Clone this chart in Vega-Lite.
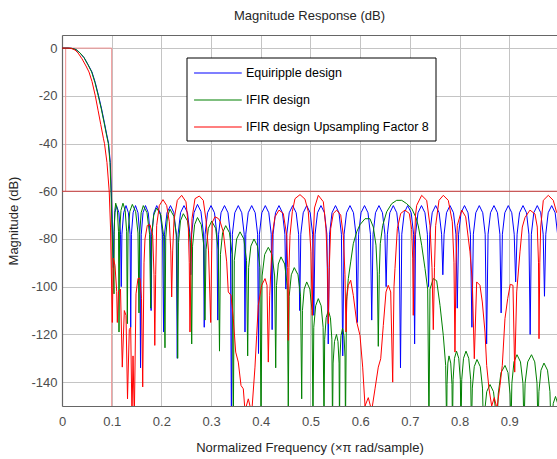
{
"$schema":"https://vega.github.io/schema/vega-lite/v6.json",
"width":495,"height":371,
"autosize":{"type":"none"},
"padding":{"left":62,"top":35,"right":0,"bottom":53},
"background":"white",
"title":{"text":"Magnitude Response (dB)","fontSize":13,"fontWeight":"normal","font":"Liberation Sans","color":"#262626","offset":12,"anchor":"middle"},
"config":{
"view":{"stroke":null},
"font":"Liberation Sans",
"axis":{"labelFont":"Liberation Sans","titleFont":"Liberation Sans","labelFontSize":13,"titleFontSize":13,"titleFontWeight":"normal","labelColor":"#4d4d4d","titleColor":"#262626","gridColor":"#c4c4c4","gridWidth":1,"domainColor":"#666666","domainWidth":1.2,"ticks":false,"labelFlush":false,"labelOverlap":false,"labelBound":false}
},
"datasets":{
"maskLight":[{"f":0,"f2":0.1,"d":0,"d2":0},{"f":0.0074,"f2":0.0074,"d":0,"d2":-60},{"f":0.1,"f2":0.1,"d":0,"d2":-150}],
"maskDark":[{"f":0,"f2":0.996,"d":-60,"d2":-60}],
"eq":[{"f":0,"d":0},{"f":0.012,"d":0},{"f":0.0201,"d":-0.1},{"f":0.0282,"d":-0.6},{"f":0.0362,"d":-2},{"f":0.0445,"d":-4},{"f":0.0527,"d":-7},{"f":0.0603,"d":-10},{"f":0.067,"d":-14.5},{"f":0.0736,"d":-20},{"f":0.0797,"d":-25.5},{"f":0.0851,"d":-31},{"f":0.0898,"d":-36},{"f":0.0938,"d":-40},{"f":0.0972,"d":-48},{"f":0.0992,"d":-60},{"f":0.1012,"d":-72},{"f":0.1034,"d":-92},
{"f":0.1043,"d":-78},{"f":0.1065,"d":-69},{"f":0.1097,"d":-66},{"f":0.1145,"d":-69},{"f":0.1178,"d":-78},{"f":0.1192,"d":-100},
{"f":0.1206,"d":-78},{"f":0.124,"d":-69},{"f":0.1288,"d":-66},{"f":0.1336,"d":-69},{"f":0.1369,"d":-78},{"f":0.1383,"d":-117},
{"f":0.1397,"d":-78},{"f":0.1431,"d":-69},{"f":0.1479,"d":-66},{"f":0.1529,"d":-69},{"f":0.1564,"d":-78},{"f":0.158,"d":-134},
{"f":0.1595,"d":-78},{"f":0.163,"d":-69},{"f":0.168,"d":-66},{"f":0.1736,"d":-69},{"f":0.1776,"d":-78},{"f":0.1793,"d":-110},
{"f":0.1809,"d":-78},{"f":0.1849,"d":-69},{"f":0.1906,"d":-66},{"f":0.1975,"d":-69},{"f":0.2024,"d":-78},{"f":0.2044,"d":-119},
{"f":0.2062,"d":-78},{"f":0.2113,"d":-69},{"f":0.2183,"d":-66},{"f":0.2251,"d":-69},{"f":0.2299,"d":-78},{"f":0.2319,"d":-130},
{"f":0.2336,"d":-78},{"f":0.2385,"d":-69},{"f":0.2455,"d":-66},{"f":0.2525,"d":-69},{"f":0.2574,"d":-78},{"f":0.2591,"d":-95},
{"f":0.2607,"d":-78},{"f":0.2656,"d":-69},{"f":0.2726,"d":-65.5},{"f":0.2796,"d":-68.5},{"f":0.2845,"d":-77.5},{"f":0.2862,"d":-117},
{"f":0.2879,"d":-78},{"f":0.2928,"d":-69},{"f":0.2998,"d":-66},{"f":0.3068,"d":-69},{"f":0.3117,"d":-78},{"f":0.3134,"d":-114},
{"f":0.3151,"d":-78},{"f":0.32,"d":-69},{"f":0.327,"d":-66},{"f":0.334,"d":-69},{"f":0.3389,"d":-78},{"f":0.3409,"d":-160},
{"f":0.3428,"d":-78},{"f":0.3477,"d":-69},{"f":0.3547,"d":-66},{"f":0.3617,"d":-69},{"f":0.3666,"d":-78},{"f":0.3682,"d":-119},
{"f":0.3698,"d":-78},{"f":0.3747,"d":-69},{"f":0.3817,"d":-66},{"f":0.3887,"d":-69},{"f":0.3936,"d":-78},{"f":0.3954,"d":-128},
{"f":0.3972,"d":-78},{"f":0.4021,"d":-69},{"f":0.4091,"d":-66},{"f":0.4161,"d":-69},{"f":0.421,"d":-78},{"f":0.4228,"d":-118},
{"f":0.4247,"d":-78},{"f":0.4296,"d":-69},{"f":0.4366,"d":-66},{"f":0.4436,"d":-69},{"f":0.4485,"d":-78},{"f":0.4504,"d":-101},
{"f":0.4523,"d":-78},{"f":0.4572,"d":-69},{"f":0.4642,"d":-66},{"f":0.4712,"d":-69},{"f":0.4761,"d":-78},{"f":0.4783,"d":-110},
{"f":0.4805,"d":-78},{"f":0.4854,"d":-69},{"f":0.4924,"d":-66},{"f":0.4994,"d":-69},{"f":0.5043,"d":-78},{"f":0.5067,"d":-112},
{"f":0.5092,"d":-78},{"f":0.5141,"d":-69},{"f":0.5211,"d":-66},{"f":0.5281,"d":-69},{"f":0.533,"d":-78},{"f":0.5357,"d":-124},
{"f":0.5384,"d":-78},{"f":0.5433,"d":-69},{"f":0.5503,"d":-66},{"f":0.5573,"d":-69},{"f":0.5622,"d":-78},{"f":0.5649,"d":-129},
{"f":0.5676,"d":-78},{"f":0.5725,"d":-69},{"f":0.5795,"d":-66},{"f":0.5865,"d":-69},{"f":0.5914,"d":-78},{"f":0.5941,"d":-115},
{"f":0.5968,"d":-78},{"f":0.6017,"d":-69},{"f":0.6087,"d":-66},{"f":0.6157,"d":-69},{"f":0.6206,"d":-78},{"f":0.6232,"d":-114},
{"f":0.6259,"d":-78},{"f":0.6308,"d":-69},{"f":0.6378,"d":-66},{"f":0.6448,"d":-69},{"f":0.6497,"d":-78},{"f":0.6522,"d":-100},
{"f":0.6547,"d":-78},{"f":0.6596,"d":-69},{"f":0.6666,"d":-66},{"f":0.6736,"d":-69},{"f":0.6785,"d":-78},{"f":0.6811,"d":-134},
{"f":0.6837,"d":-78},{"f":0.6886,"d":-69},{"f":0.6956,"d":-66},{"f":0.7026,"d":-69},{"f":0.7075,"d":-78},{"f":0.7095,"d":-124},
{"f":0.7114,"d":-78},{"f":0.7163,"d":-69},{"f":0.7233,"d":-66},{"f":0.7303,"d":-69},{"f":0.7352,"d":-78},{"f":0.7376,"d":-100},
{"f":0.74,"d":-78},{"f":0.7449,"d":-69},{"f":0.7519,"d":-66},{"f":0.7589,"d":-69},{"f":0.7638,"d":-78},{"f":0.7663,"d":-95},
{"f":0.7688,"d":-78},{"f":0.7737,"d":-69},{"f":0.7807,"d":-66},{"f":0.7877,"d":-69},{"f":0.7926,"d":-78},{"f":0.7953,"d":-109},
{"f":0.798,"d":-78},{"f":0.8029,"d":-69},{"f":0.8099,"d":-66},{"f":0.8169,"d":-69},{"f":0.8218,"d":-78},{"f":0.8248,"d":-117},
{"f":0.8277,"d":-78},{"f":0.8326,"d":-69},{"f":0.8396,"d":-66},{"f":0.8466,"d":-69},{"f":0.8515,"d":-78},{"f":0.8544,"d":-124},
{"f":0.8573,"d":-78},{"f":0.8622,"d":-69},{"f":0.8692,"d":-66},{"f":0.8762,"d":-69},{"f":0.8811,"d":-78},{"f":0.8836,"d":-111},
{"f":0.8861,"d":-78},{"f":0.891,"d":-69},{"f":0.898,"d":-66},{"f":0.905,"d":-69},{"f":0.9099,"d":-78},{"f":0.9128,"d":-98},
{"f":0.9157,"d":-78},{"f":0.9206,"d":-69},{"f":0.9276,"d":-66},{"f":0.9346,"d":-69},{"f":0.9395,"d":-78},{"f":0.942,"d":-120},
{"f":0.9444,"d":-78},{"f":0.9493,"d":-69},{"f":0.9563,"d":-66},{"f":0.9633,"d":-69},{"f":0.9682,"d":-78},{"f":0.9708,"d":-104},
{"f":0.9734,"d":-78},{"f":0.9783,"d":-69},{"f":0.9853,"d":-66},{"f":0.9923,"d":-69},{"f":0.9972,"d":-78}],
"ifir":[{"f":0,"d":0},{"f":0.012,"d":0},{"f":0.0201,"d":-0.1},{"f":0.0282,"d":-0.6},{"f":0.0362,"d":-2},{"f":0.0443,"d":-4},{"f":0.0523,"d":-7},{"f":0.0597,"d":-10},{"f":0.0664,"d":-14.5},{"f":0.073,"d":-20},{"f":0.0791,"d":-25.5},{"f":0.0845,"d":-31},{"f":0.0892,"d":-36},{"f":0.0932,"d":-40},{"f":0.0966,"d":-48},{"f":0.0986,"d":-60},{"f":0.1006,"d":-75},{"f":0.1046,"d":-103},
{"f":0.1051,"d":-77},{"f":0.1063,"d":-68},{"f":0.1081,"d":-65},{"f":0.1114,"d":-68},{"f":0.1137,"d":-77},{"f":0.1147,"d":-119},
{"f":0.1159,"d":-77},{"f":0.1187,"d":-68},{"f":0.1227,"d":-65},{"f":0.1271,"d":-68},{"f":0.1301,"d":-77},{"f":0.1314,"d":-115.5},
{"f":0.1329,"d":-77.5},{"f":0.1364,"d":-68.5},{"f":0.1415,"d":-65.5},{"f":0.1482,"d":-68.5},{"f":0.1529,"d":-77.5},{"f":0.1549,"d":-111},
{"f":0.1562,"d":-78},{"f":0.1593,"d":-69},{"f":0.1636,"d":-66},{"f":0.171,"d":-69},{"f":0.1762,"d":-78},{"f":0.1785,"d":-109},
{"f":0.1803,"d":-79},{"f":0.1845,"d":-70},{"f":0.1905,"d":-67},{"f":0.1989,"d":-70},{"f":0.2047,"d":-79},{"f":0.2072,"d":-125.6},
{"f":0.2087,"d":-79.5},{"f":0.2123,"d":-70.5},{"f":0.2173,"d":-67.5},{"f":0.2251,"d":-70.5},{"f":0.231,"d":-79.5},{"f":0.2328,"d":-130},
{"f":0.2345,"d":-81.4},{"f":0.2384,"d":-72.4},{"f":0.2441,"d":-69.4},{"f":0.2525,"d":-72.4},{"f":0.2584,"d":-81.4},{"f":0.261,"d":-124},
{"f":0.2627,"d":-83},{"f":0.2668,"d":-74},{"f":0.2726,"d":-71},{"f":0.2802,"d":-74},{"f":0.2855,"d":-83},{"f":0.2877,"d":-114},
{"f":0.2898,"d":-84.5},{"f":0.2945,"d":-75.5},{"f":0.3012,"d":-72.5},{"f":0.3091,"d":-75.5},{"f":0.3145,"d":-84.5},{"f":0.3169,"d":-127},
{"f":0.3188,"d":-86.4},{"f":0.3231,"d":-77.4},{"f":0.3294,"d":-74.4},{"f":0.337,"d":-77.4},{"f":0.3424,"d":-86.4},{"f":0.3447,"d":-160},
{"f":0.3467,"d":-89},{"f":0.3514,"d":-80},{"f":0.3582,"d":-77},{"f":0.3659,"d":-80},{"f":0.3713,"d":-89},{"f":0.3736,"d":-129},
{"f":0.3755,"d":-92},{"f":0.38,"d":-83},{"f":0.3863,"d":-80},{"f":0.3934,"d":-83},{"f":0.3983,"d":-92},{"f":0.4004,"d":-160},
{"f":0.4026,"d":-95.5},{"f":0.4078,"d":-86.5},{"f":0.4151,"d":-83.5},{"f":0.4225,"d":-86.5},{"f":0.4278,"d":-95.5},{"f":0.43,"d":-134},
{"f":0.4316,"d":-99.5},{"f":0.4353,"d":-90.5},{"f":0.4406,"d":-87.5},{"f":0.448,"d":-90.5},{"f":0.4532,"d":-99.5},{"f":0.4553,"d":-150},
{"f":0.4571,"d":-104},{"f":0.4614,"d":-95},{"f":0.4674,"d":-92},{"f":0.4748,"d":-95},{"f":0.48,"d":-104},{"f":0.4823,"d":-147},
{"f":0.4838,"d":-110},{"f":0.4873,"d":-101},{"f":0.4924,"d":-98},{"f":0.4987,"d":-101},{"f":0.5031,"d":-110},{"f":0.505,"d":-160},
{"f":0.5066,"d":-117},{"f":0.5104,"d":-108},{"f":0.5157,"d":-105},{"f":0.5214,"d":-108},{"f":0.5254,"d":-117},{"f":0.5272,"d":-160},
{"f":0.5285,"d":-122},{"f":0.5315,"d":-113},{"f":0.5358,"d":-110},{"f":0.5401,"d":-113},{"f":0.543,"d":-122},{"f":0.5443,"d":-160},
{"f":0.5455,"d":-132},{"f":0.5483,"d":-123},{"f":0.5523,"d":-120},{"f":0.5553,"d":-123},{"f":0.5575,"d":-132},{"f":0.5584,"d":-160},
{"f":0.5593,"d":-129.5},{"f":0.5614,"d":-120.5},{"f":0.5644,"d":-117.5},{"f":0.5674,"d":-120.5},{"f":0.5695,"d":-129.5},{"f":0.5704,"d":-160},
{"f":0.5724,"d":-106},{"f":0.5761,"d":-96.6},{"f":0.5809,"d":-89.6},{"f":0.5861,"d":-82},{"f":0.593,"d":-77},{"f":0.5996,"d":-74},{"f":0.6097,"d":-71.5},{"f":0.6197,"d":-71.5},{"f":0.6264,"d":-75},{"f":0.6318,"d":-82.6},{"f":0.6344,"d":-93.8},{"f":0.6364,"d":-125},
{"f":0.6384,"d":-95},{"f":0.6404,"d":-82},{"f":0.6453,"d":-74.3},{"f":0.6533,"d":-68.6},{"f":0.6634,"d":-65.2},{"f":0.6734,"d":-63.8},{"f":0.6835,"d":-63.8},{"f":0.6936,"d":-65.2},{"f":0.7036,"d":-67.2},{"f":0.7123,"d":-71},{"f":0.7169,"d":-74.5},{"f":0.7237,"d":-82.6},{"f":0.7304,"d":-92.4},{"f":0.7358,"d":-101},{"f":0.7384,"d":-160},
{"f":0.7404,"d":-101},{"f":0.7471,"d":-96.6},{"f":0.7539,"d":-97.5},{"f":0.7606,"d":-107.8},{"f":0.7672,"d":-120.4},{"f":0.772,"d":-133},{"f":0.774,"d":-160},
{"f":0.7747,"d":-141},{"f":0.7764,"d":-132},{"f":0.7787,"d":-129},{"f":0.7822,"d":-132},{"f":0.7847,"d":-141},{"f":0.7857,"d":-160},
{"f":0.7869,"d":-139},{"f":0.7897,"d":-130},{"f":0.7938,"d":-127},{"f":0.7983,"d":-130},{"f":0.8015,"d":-139},{"f":0.8028,"d":-160},
{"f":0.8043,"d":-139},{"f":0.8079,"d":-130},{"f":0.8129,"d":-127},{"f":0.8184,"d":-130},{"f":0.8223,"d":-139},{"f":0.8239,"d":-160},
{"f":0.8256,"d":-142.5},{"f":0.8295,"d":-133.5},{"f":0.835,"d":-130.5},{"f":0.8416,"d":-133.5},{"f":0.8461,"d":-142.5},{"f":0.8481,"d":-160},
{"f":0.8501,"d":-153},{"f":0.8546,"d":-144},{"f":0.8612,"d":-141},{"f":0.8682,"d":-144},{"f":0.8731,"d":-153},{"f":0.8753,"d":-160},
{"f":0.8777,"d":-145},{"f":0.8833,"d":-136},{"f":0.8914,"d":-133},{"f":0.8974,"d":-136},{"f":0.9016,"d":-145},{"f":0.9034,"d":-160},
{"f":0.9052,"d":-140.5},{"f":0.9094,"d":-131.5},{"f":0.9155,"d":-128.5},{"f":0.9225,"d":-131.5},{"f":0.9275,"d":-140.5},{"f":0.9296,"d":-160},
{"f":0.9318,"d":-140.5},{"f":0.9371,"d":-131.5},{"f":0.9447,"d":-128.5},{"f":0.9512,"d":-131.5},{"f":0.9558,"d":-140.5},{"f":0.9578,"d":-160},
{"f":0.9596,"d":-144},{"f":0.9638,"d":-135},{"f":0.9698,"d":-132},{"f":0.9769,"d":-135},{"f":0.9818,"d":-144},{"f":0.9839,"d":-160},
{"f":0.9853,"d":-158},{"f":0.9884,"d":-149},{"f":0.993,"d":-146},{"f":0.9975,"d":-149}],
"up":[{"f":0,"d":0},{"f":0.012,"d":0},{"f":0.0181,"d":-0.1},{"f":0.0262,"d":-0.8},{"f":0.0322,"d":-2},{"f":0.0403,"d":-4.5},{"f":0.0483,"d":-7.5},{"f":0.0543,"d":-10},{"f":0.0604,"d":-14},{"f":0.067,"d":-20},{"f":0.0725,"d":-26},{"f":0.078,"d":-32},{"f":0.0835,"d":-38},{"f":0.0855,"d":-40},{"f":0.0905,"d":-48},{"f":0.095,"d":-60},{"f":0.0976,"d":-75},{"f":0.1012,"d":-115},
{"f":0.1032,"d":-88},{"f":0.1066,"d":-91},{"f":0.1101,"d":-102},{"f":0.1113,"d":-115},{"f":0.1137,"d":-102},{"f":0.1177,"d":-101},{"f":0.1213,"d":-133.7},{"f":0.1254,"d":-110},{"f":0.1288,"d":-112},{"f":0.1318,"d":-147},{"f":0.1354,"d":-118},{"f":0.1382,"d":-117},{"f":0.1408,"d":-155},{"f":0.1429,"d":-129},{"f":0.1455,"d":-155},{"f":0.1489,"d":-103},{"f":0.1529,"d":-96.5},{"f":0.1569,"d":-96.5},{"f":0.16,"d":-105},{"f":0.1624,"d":-142},{"f":0.165,"d":-90},{"f":0.167,"d":-80},{"f":0.1716,"d":-74.3},{"f":0.1771,"d":-74},{"f":0.1825,"d":-78.5},{"f":0.1851,"d":-95},{"f":0.1867,"d":-124.6},{"f":0.1885,"d":-95},{"f":0.1905,"d":-74.3},{"f":0.1958,"d":-66},{"f":0.2032,"d":-63.5},{"f":0.2107,"d":-66},{"f":0.2159,"d":-72.8},{"f":0.2189,"d":-85},{"f":0.2207,"d":-104.3},{"f":0.2227,"d":-85},{"f":0.2254,"d":-72},{"f":0.232,"d":-63.8},{"f":0.2408,"d":-61.7},{"f":0.2495,"d":-64.4},{"f":0.2541,"d":-74.3},{"f":0.2561,"d":-90},{"f":0.2575,"d":-119},{"f":0.2596,"d":-90},{"f":0.2616,"d":-71.4},{"f":0.2676,"d":-63.1},{"f":0.2763,"d":-62},{"f":0.2843,"d":-63.8},{"f":0.2897,"d":-72},{"f":0.2948,"d":-85},{"f":0.2992,"d":-115},{"f":0.3012,"d":-85},{"f":0.3024,"d":-73},{"f":0.3078,"d":-70.7},{"f":0.3145,"d":-71.4},{"f":0.3179,"d":-72.5},{"f":0.3246,"d":-77.1},{"f":0.3314,"d":-89.6},{"f":0.3346,"d":-102.2},{"f":0.34,"d":-103.6},{"f":0.3447,"d":-113.4},{"f":0.3495,"d":-127.4},{"f":0.3547,"d":-131.6},{"f":0.3602,"d":-141.4},{"f":0.3648,"d":-142.8},{"f":0.3682,"d":-152},{"f":0.3749,"d":-147},{"f":0.3817,"d":-153},{"f":0.3883,"d":-133.7},{"f":0.3917,"d":-120.4},{"f":0.395,"d":-107.8},{"f":0.4018,"d":-99.4},{"f":0.4085,"d":-96.6},{"f":0.4125,"d":-99.4},{"f":0.4151,"d":-131.6},{"f":0.4179,"d":-103.6},{"f":0.4239,"d":-77.1},{"f":0.4286,"d":-70.7},{"f":0.4366,"d":-67.9},{"f":0.4453,"d":-69.3},{"f":0.4521,"d":-78.5},{"f":0.4541,"d":-92},{"f":0.4553,"d":-122.5},{"f":0.4567,"d":-92},{"f":0.4588,"d":-78.5},{"f":0.4634,"d":-68.6},{"f":0.4688,"d":-63.1},{"f":0.4789,"d":-61.4},{"f":0.4889,"d":-63.3},{"f":0.4956,"d":-68.6},{"f":0.501,"d":-85.4},{"f":0.5036,"d":-112},{"f":0.5056,"d":-80},{"f":0.508,"d":-67},{"f":0.5157,"d":-61.7},{"f":0.5258,"d":-64.4},{"f":0.5312,"d":-75.7},{"f":0.5342,"d":-92},{"f":0.5358,"d":-115.5},{"f":0.5378,"d":-92},{"f":0.5406,"d":-75.7},{"f":0.5459,"d":-69.3},{"f":0.5527,"d":-67.9},{"f":0.5608,"d":-70},{"f":0.566,"d":-78.5},{"f":0.5694,"d":-95},{"f":0.5714,"d":-119},{"f":0.5734,"d":-104},{"f":0.5761,"d":-99.4},{"f":0.5809,"d":-97.3},{"f":0.5861,"d":-103.6},{"f":0.593,"d":-114.8},{"f":0.5996,"d":-120.4},{"f":0.605,"d":-133.7},{"f":0.6097,"d":-150},{"f":0.6163,"d":-146.5},{"f":0.6231,"d":-152},{"f":0.6298,"d":-142.8},{"f":0.6364,"d":-133.7},{"f":0.6413,"d":-130.2},{"f":0.6465,"d":-116.2},{"f":0.6519,"d":-102.2},{"f":0.6565,"d":-99.4},{"f":0.6614,"d":-102.2},{"f":0.6654,"d":-140},{"f":0.668,"d":-100},{"f":0.67,"d":-92.4},{"f":0.6747,"d":-75.7},{"f":0.6815,"d":-69.3},{"f":0.6901,"d":-67.9},{"f":0.6988,"d":-69.3},{"f":0.7036,"d":-76},{"f":0.7056,"d":-88},{"f":0.7068,"d":-112},{"f":0.7087,"d":-85},{"f":0.7113,"d":-70},{"f":0.7137,"d":-65.9},{"f":0.7237,"d":-61.7},{"f":0.7338,"d":-63.8},{"f":0.7404,"d":-74.3},{"f":0.7445,"d":-92},{"f":0.7471,"d":-118},{"f":0.7495,"d":-92},{"f":0.7519,"d":-74.3},{"f":0.7586,"d":-63.8},{"f":0.7672,"d":-61.7},{"f":0.7773,"d":-63.8},{"f":0.7853,"d":-72.8},{"f":0.7887,"d":-90},{"f":0.7907,"d":-127.4},{"f":0.7928,"d":-90},{"f":0.7954,"d":-74.3},{"f":0.8042,"d":-67.9},{"f":0.8123,"d":-70.7},{"f":0.8209,"d":-85.4},{"f":0.8256,"d":-98},{"f":0.8296,"d":-130.2},{"f":0.8344,"d":-98},{"f":0.841,"d":-99.4},{"f":0.8457,"d":-106.4},{"f":0.8511,"d":-119},{"f":0.8545,"d":-133},{"f":0.8592,"d":-142.8},{"f":0.8646,"d":-150},{"f":0.8698,"d":-146.5},{"f":0.8752,"d":-151},{"f":0.8813,"d":-141.4},{"f":0.8859,"d":-133},{"f":0.8913,"d":-113.4},{"f":0.8968,"d":-105},{"f":0.902,"d":-99},{"f":0.9074,"d":-99.4},{"f":0.9109,"d":-135.8},{"f":0.9149,"d":-102.2},{"f":0.9215,"d":-85.4},{"f":0.9262,"d":-75},{"f":0.9316,"d":-71},{"f":0.9416,"d":-67.9},{"f":0.9517,"d":-69.5},{"f":0.9563,"d":-75},{"f":0.9588,"d":-90},{"f":0.9598,"d":-121.8},{"f":0.9614,"d":-90},{"f":0.9632,"d":-75},{"f":0.9684,"d":-63.8},{"f":0.9785,"d":-61.7},{"f":0.9885,"d":-63.8},{"f":0.9954,"d":-69}]
},
"resolve":{"axis":{"x":"independent"}},
"layer":[
{"data":{"name":"maskLight"},"mark":{"type":"rule","color":"#ef8f8f","strokeWidth":1,"clip":true},
"encoding":{
"x":{"field":"f","type":"quantitative","scale":{"domain":[0,0.996],"nice":false,"zero":false},"axis":{"values":[0,0.1,0.2,0.3,0.4,0.5,0.6,0.7,0.8,0.9],"labelExpr":"''+datum.value","labelPadding":9,"title":"Normalized Frequency (×π rad/sample)","titlePadding":13}},
"x2":{"field":"f2"},
"y":{"field":"d","type":"quantitative","scale":{"domain":[-150,5.5],"nice":false,"zero":false},"axis":{"values":[0,-20,-40,-60,-80,-100,-120,-140],"labelExpr":"''+datum.value","labelPadding":5,"title":"Magnitude (dB)","titlePadding":10}},
"y2":{"field":"d2"}}},
{"data":{"name":"maskDark"},"mark":{"type":"rule","color":"#cc3b3b","strokeWidth":1,"clip":true},
"encoding":{
"x":{"field":"f","type":"quantitative","axis":{"orient":"top","labels":false,"ticks":false,"grid":false,"title":null,"domain":true}},
"x2":{"field":"f2"},
"y":{"field":"d","type":"quantitative"},
"y2":{"field":"d2"}}},
{"data":{"name":"eq"},"mark":{"type":"line","strokeWidth":1,"clip":true},
"encoding":{
"x":{"field":"f","type":"quantitative","axis":null},
"y":{"field":"d","type":"quantitative"},
"color":{"datum":"Equiripple design","type":"nominal","scale":{"domain":["Equiripple design","IFIR design","IFIR design Upsampling Factor 8"],"range":["#0000ff","#008000","#ff0000"]},
"legend":{"orient":"none","legendX":124.5,"legendY":22.5,"title":null,"symbolType":"M-1,0H5","symbolSize":253,"symbolStrokeWidth":1.2,"labelFont":"Liberation Sans","labelFontSize":12.5,"labelColor":"#000000","labelOffset":35,"padding":6.5,"rowPadding":11,"strokeColor":"#000000","fillColor":"#ffffff","cornerRadius":0,"labelLimit":400}}}},
{"data":{"name":"ifir"},"mark":{"type":"line","strokeWidth":1,"clip":true},
"encoding":{
"x":{"field":"f","type":"quantitative","axis":null},
"y":{"field":"d","type":"quantitative"},
"color":{"datum":"IFIR design","type":"nominal"}}},
{"data":{"name":"up"},"mark":{"type":"line","strokeWidth":1,"clip":true},
"encoding":{
"x":{"field":"f","type":"quantitative","axis":null},
"y":{"field":"d","type":"quantitative"},
"color":{"datum":"IFIR design Upsampling Factor 8","type":"nominal"}}}
]
}
